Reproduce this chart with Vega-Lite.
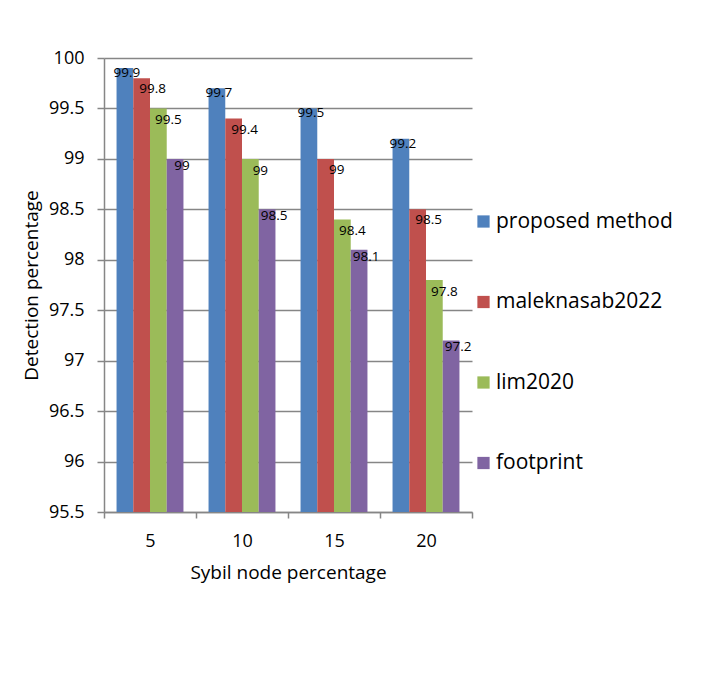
{
  "$schema": "https://vega.github.io/schema/vega-lite/v6.json",
  "width": 368,
  "height": 454,
  "autosize": {"type": "none"},
  "padding": {"left": 104, "top": 58, "right": 230, "bottom": 183},
  "background": "white",
  "config": {
    "font": "Open Sans",
    "view": {"stroke": null},
    "axis": {
      "domainColor": "#868686",
      "domainWidth": 1.5,
      "tickColor": "#868686",
      "tickWidth": 1.5,
      "gridColor": "#868686",
      "gridWidth": 1.5,
      "labelColor": "#000000",
      "titleColor": "#000000",
      "titleFontWeight": "normal",
      "labelFont": "Open Sans",
      "titleFont": "Open Sans"
    }
  },
  "data": {
    "values": [
      {"size": "5", "method": "proposed method", "value": 99.9},
      {"size": "5", "method": "maleknasab2022", "value": 99.8},
      {"size": "5", "method": "lim2020", "value": 99.5},
      {"size": "5", "method": "footprint", "value": 99.0},
      {"size": "10", "method": "proposed method", "value": 99.7},
      {"size": "10", "method": "maleknasab2022", "value": 99.4},
      {"size": "10", "method": "lim2020", "value": 99.0},
      {"size": "10", "method": "footprint", "value": 98.5},
      {"size": "15", "method": "proposed method", "value": 99.5},
      {"size": "15", "method": "maleknasab2022", "value": 99.0},
      {"size": "15", "method": "lim2020", "value": 98.4},
      {"size": "15", "method": "footprint", "value": 98.1},
      {"size": "20", "method": "proposed method", "value": 99.2},
      {"size": "20", "method": "maleknasab2022", "value": 98.5},
      {"size": "20", "method": "lim2020", "value": 97.8},
      {"size": "20", "method": "footprint", "value": 97.2}
    ]
  },
  "encoding": {
    "x": {
      "field": "size",
      "type": "ordinal",
      "sort": ["5", "10", "15", "20"],
      "scale": {"paddingInner": 0, "paddingOuter": 0},
      "title": "Sybil node percentage",
      "axis": {
        "labelAngle": 0,
        "tickBand": "extent",
        "tickSize": 6,
        "labelFontSize": 18,
        "labelPadding": 14,
        "titleFontSize": 19,
        "titlePadding": 13,
        "grid": false
      }
    },
    "xOffset": {
      "field": "method",
      "type": "nominal",
      "sort": ["proposed method", "maleknasab2022", "lim2020", "footprint"],
      "scale": {"paddingInner": 0, "paddingOuter": 0.75}
    },
    "y": {
      "field": "value",
      "type": "quantitative",
      "scale": {"domain": [95.5, 100], "zero": false, "nice": false},
      "title": "Detection percentage",
      "axis": {
        "values": [95.5, 96, 96.5, 97, 97.5, 98, 98.5, 99, 99.5, 100],
        "format": "~g",
        "tickSize": 7,
        "labelFontSize": 18,
        "labelPadding": 13,
        "titleFontSize": 19,
        "titlePadding": 7,
        "grid": true
      }
    }
  },
  "layer": [
    {
      "mark": {"type": "bar", "clip": true},
      "encoding": {
        "y2": {"datum": 95.5},
        "color": {
          "field": "method",
          "type": "nominal",
          "scale": {
            "domain": ["proposed method", "maleknasab2022", "lim2020", "footprint"],
            "range": ["#4F81BD", "#C0504D", "#9BBB59", "#8064A2"]
          },
          "legend": {
            "title": null,
            "orient": "none",
            "legendX": 369,
            "legendY": 153,
            "padding": 0,
            "symbolType": "square",
            "symbolSize": 150,
            "symbolStrokeWidth": 0,
            "labelFontSize": 21,
            "labelLimit": 400,
            "labelColor": "#000000",
            "labelOffset": 2,
            "rowPadding": 58.5
          }
        }
      }
    },
    {
      "transform": [{"filter": "datum.method === 'proposed method'"}],
      "mark": {"type": "text", "fontSize": 13.5, "color": "#000000", "baseline": "middle", "dx": 2, "dy": 5},
      "encoding": {"text": {"field": "value", "type": "quantitative", "format": "~g"}}
    },
    {
      "transform": [{"filter": "datum.method === 'maleknasab2022'"}],
      "mark": {"type": "text", "fontSize": 13.5, "color": "#000000", "baseline": "middle", "dx": 11, "dy": 11},
      "encoding": {"text": {"field": "value", "type": "quantitative", "format": "~g"}}
    },
    {
      "transform": [{"filter": "datum.method === 'lim2020'"}],
      "mark": {"type": "text", "fontSize": 13.5, "color": "#000000", "baseline": "middle", "dx": 10, "dy": 12},
      "encoding": {"text": {"field": "value", "type": "quantitative", "format": "~g"}}
    },
    {
      "transform": [{"filter": "datum.method === 'footprint'"}],
      "mark": {"type": "text", "fontSize": 13.5, "color": "#000000", "baseline": "middle", "dx": 7, "dy": 7},
      "encoding": {"text": {"field": "value", "type": "quantitative", "format": "~g"}}
    }
  ]
}
